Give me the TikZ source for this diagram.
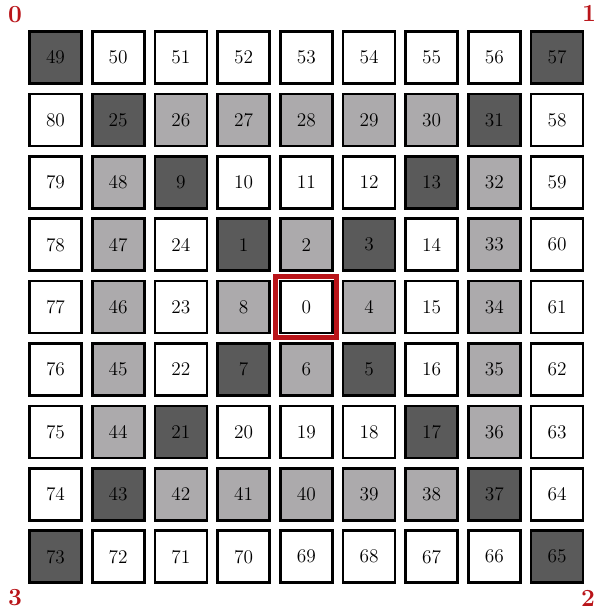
\documentclass[tikz,border=0pt]{standalone}
\usepackage{tikz}

\definecolor{cellw}{RGB}{255,255,255}
\definecolor{cellg}{RGB}{172,170,172}
\definecolor{celld}{RGB}{90,90,90}
\definecolor{markred}{RGB}{185,20,25}

\begin{document}
\begin{tikzpicture}[x=0.02cm,y=-0.02cm,
  cell/.style={draw,line width=0.055cm,minimum size=1.04cm,inner sep=0pt,
    font=\fontsize{11}{13}\selectfont},
  corner/.style={text=markred,inner sep=0pt,
    font=\fontsize{14}{16}\selectfont\bfseries}
]
  \useasboundingbox (0,0) rectangle (598,613);
  % rows of the spiral, number/fill
  \foreach \nums [count=\r from 0] in {
    {49/d,50/w,51/w,52/w,53/w,54/w,55/w,56/w,57/d},
    {80/w,25/d,26/g,27/g,28/g,29/g,30/g,31/d,58/w},
    {79/w,48/g,9/d,10/w,11/w,12/w,13/d,32/g,59/w},
    {78/w,47/g,24/w,1/d,2/g,3/d,14/w,33/g,60/w},
    {77/w,46/g,23/w,8/g,0/w,4/g,15/w,34/g,61/w},
    {76/w,45/g,22/w,7/d,6/g,5/d,16/w,35/g,62/w},
    {75/w,44/g,21/d,20/w,19/w,18/w,17/d,36/g,63/w},
    {74/w,43/d,42/g,41/g,40/g,39/g,38/g,37/d,64/w},
    {73/d,72/w,71/w,70/w,69/w,68/w,67/w,66/w,65/d}}{
    \foreach \n/\f [count=\c from 0] in \nums
      \node[cell,fill=cell\f] (c\n) at (55.5+62.7*\c,57.5+62.4*\r) {\n};
  }
  % start cell
  \draw[markred,line width=0.1cm]
    ([shift={(-3,-3)}]c0.north west) rectangle ([shift={(3,3)}]c0.south east);
  % corners
  \node[corner] (k0) at (15,15) {0};
  \node[corner] (k1) at (589,13) {1};
  \node[corner] (k2) at (588,598) {2};
  \node[corner] (k3) at (15,598) {3};
\end{tikzpicture}
\end{document}
